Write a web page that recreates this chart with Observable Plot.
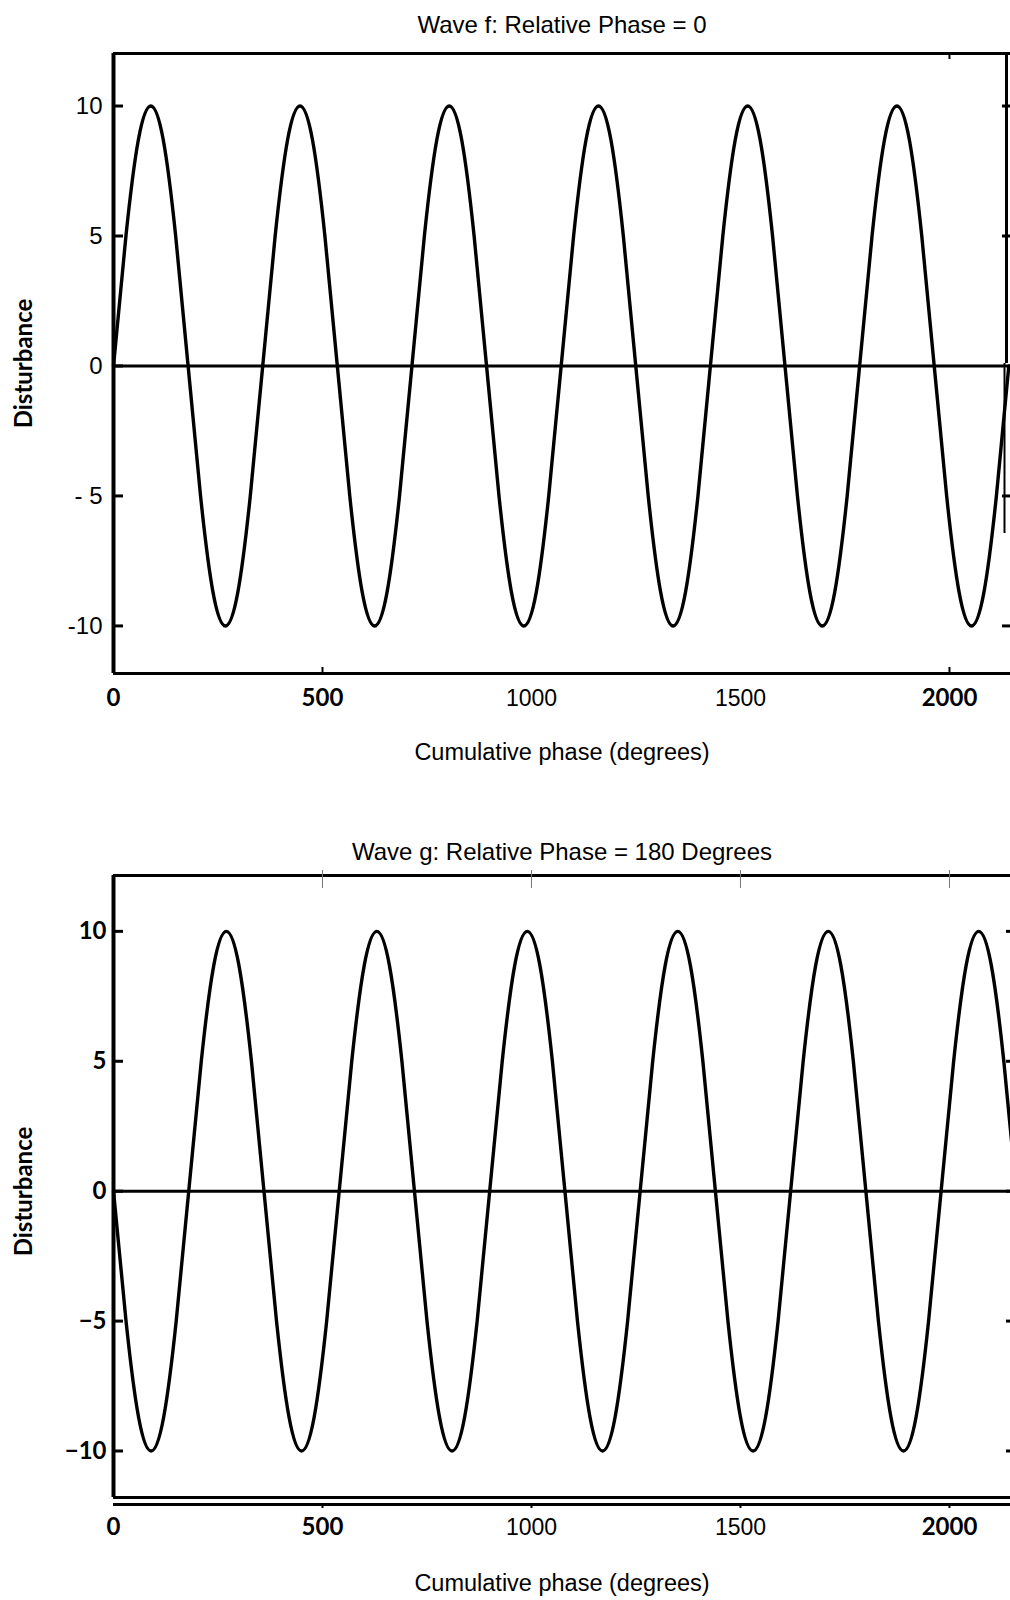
<!DOCTYPE html>
<html><head><meta charset="utf-8">
<script src="https://cdn.jsdelivr.net/npm/d3@7"></script>
<script src="https://cdn.jsdelivr.net/npm/@observablehq/plot@0.6"></script>
<style>
body{margin:0;background:#fff;}
#wrap{width:1010px;overflow:hidden;}
#wrap svg{display:block;overflow:hidden;}
</style></head><body><div id="wrap"></div>
<script>
// ---- data ----
const titleF = "Wave f: Relative Phase = 0";
const titleG = "Wave g: Relative Phase = 180 Degrees";
const xTitle = "Cumulative phase (degrees)";
const yTitle = "Disturbance";

// cumulative phase (deg) of sample points along wave f (as drawn)
const phaseF = [0,29.75,59.5,89.25,119,148.75,178.5,208.25,238,267.75,297.5,327.25,
  357,386.75,416.5,446.25,476,505.75,535.5,565.25,595,624.75,654.5,684.25,
  714,743.75,773.5,803.25,833,862.75,892.5,922.25,952,981.75,1011.5,1041.25,
  1071,1100.75,1130.5,1160.25,1190,1219.75,1249.5,1279.25,1309,1338.75,1368.5,1398.25,
  1428,1457.75,1487.5,1517.25,1547,1576.75,1606.5,1636.25,1666,1695.75,1725.5,1755.25,
  1785,1814.75,1844.5,1874.25,1904,1933.75,1963.5,1993.25,2023,2052.75,2082.5,2112.25,
  2142];
const waveF = [0,5,8.7,10,8.7,5,0,-5,-8.7,-10,-8.7,-5,
  0,5,8.7,10,8.7,5,0,-5,-8.7,-10,-8.7,-5,
  0,5,8.7,10,8.7,5,0,-5,-8.7,-10,-8.7,-5,
  0,5,8.7,10,8.7,5,0,-5,-8.7,-10,-8.7,-5,
  0,5,8.7,10,8.7,5,0,-5,-8.7,-10,-8.7,-5,
  0,5,8.7,10,8.7,5,0,-5,-8.7,-10,-8.7,-5,
  0];

// cumulative phase (deg) of sample points along wave g
const phaseG = [0,30,60,90,120,150,180,210,240,270,300,330,
  360,390,420,450,480,510,540,570,600,630,660,690,
  720,750,780,810,840,870,900,930,960,990,1020,1050,
  1080,1110,1140,1170,1200,1230,1260,1290,1320,1350,1380,1410,
  1440,1470,1500,1530,1560,1590,1620,1650,1680,1710,1740,1770,
  1800,1830,1860,1890,1920,1950,1980,2010,2040,2070,2100,2130,
  2160];
const waveG = [0,-5,-8.7,-10,-8.7,-5,0,5,8.7,10,8.7,5,
  0,-5,-8.7,-10,-8.7,-5,0,5,8.7,10,8.7,5,
  0,-5,-8.7,-10,-8.7,-5,0,5,8.7,10,8.7,5,
  0,-5,-8.7,-10,-8.7,-5,0,5,8.7,10,8.7,5,
  0,-5,-8.7,-10,-8.7,-5,0,5,8.7,10,8.7,5,
  0,-5,-8.7,-10,-8.7,-5,0,5,8.7,10,8.7,5,
  0];

const yTicks = [10, 5, 0, -5, -10];
const yLabelsF = ["10", "5", "0", "- 5", "-10"];
const yLabelsG = ["10", "5", "0", "\u22125", "\u221210"];
const xTicksBold = [0, 500, 2000];
const xTicksNarrow = [1000, 1500];
const xInnerTicksF = [500, 2000];
const xTopTicksF = [2000];
const xTicksAll = [500, 1000, 1500, 2000];

const xDomain = [0, 2146];
const yDomainF = [-11.83, 12.02];
const yDomainG = [-11.79, 12.15];

// ---- styles ----
const NARROW = "'Liberation Sans',Arial,sans-serif";
const BOLD = "Lato,'Open Sans',sans-serif";
const W = 1010, H = 800;

function chart(opts) {
  const {phase, wave, yDomain, title, yLabels, marginTop, marginBottom,
         titleDy, tickDy, xTitleDy, yLabelFont, yLabelSize, yLabelDx, bottom} = opts;
  const plotW = W - 113;
  const plotH = H - marginTop - marginBottom;
  const marks = [
    // frame
    Plot.ruleX([xDomain[0]], {stroke: "black", strokeWidth: 4}),
    Plot.ruleY([yDomain[1]], {stroke: "black", strokeWidth: 3}),
    Plot.ruleY([yDomain[0]], {stroke: "black", strokeWidth: 3}),
    // zero line
    Plot.ruleY([0], {stroke: "black", strokeWidth: 3}),
    // inward y ticks (left)
    Plot.ruleY(yTicks, {y: d => d, stroke: "black", strokeWidth: 3, insetRight: plotW - 10}),
    // wave
    Plot.line(wave, {x: phase, y: d => d, curve: "natural", stroke: "black", strokeWidth: 3.4}),
    // y tick labels
    Plot.text(yTicks, {y: d => d, text: (d, i) => yLabels[i], frameAnchor: "left",
      textAnchor: "end", lineAnchor: "middle", dx: yLabelDx, fontSize: yLabelSize, fontFamily: yLabelFont,
      fontWeight: yLabelFont === BOLD ? "bold" : "normal", fill: "black"}),
    // x tick labels
    Plot.text(xTicksBold, {x: d => d, text: d => String(d), frameAnchor: "bottom", lineAnchor: "middle",
      dy: tickDy, fontSize: 24, fontFamily: BOLD, fontWeight: "bold", fill: "black"}),
    Plot.text(xTicksNarrow, {x: d => d, text: d => String(d), frameAnchor: "bottom", lineAnchor: "middle",
      dy: tickDy, fontSize: 23, fontFamily: NARROW, fill: "black"}),
    // titles
    Plot.text([title], {frameAnchor: "top", lineAnchor: "middle", textAnchor: "middle", dy: titleDy,
      fontSize: 24, fontFamily: NARROW, fill: "black"}),
    Plot.text([xTitle], {frameAnchor: "bottom", lineAnchor: "middle", textAnchor: "middle", dy: xTitleDy,
      fontSize: 23.5, fontFamily: NARROW, fill: "black"}),
    Plot.text([yTitle], {frameAnchor: "left", rotate: -90, textAnchor: "middle", lineAnchor: "middle",
      dx: -89, dy: opts.yTitleDy, fontSize: 24, fontFamily: BOLD, fontWeight: "bold", fill: "black"})
  ];
  if (!bottom) {
    marks.push(
      Plot.ruleX(xInnerTicksF, {x: d => d, stroke: "black", strokeWidth: 2, insetTop: plotH - 6}),
      Plot.ruleX(xTopTicksF, {x: d => d, stroke: "black", strokeWidth: 2, insetBottom: plotH - 6}),
      Plot.ruleX([xDomain[1]], {dx: -4, stroke: "black", strokeWidth: 3, insetBottom: plotH / 2}),
      Plot.ruleX([xDomain[1]], {dx: -6, stroke: "black", strokeWidth: 2, insetTop: plotH / 2, insetBottom: 140}),
      Plot.ruleY([10, 5, -5, -10], {y: d => d, stroke: "black", strokeWidth: 3, insetLeft: plotW - 8})
    );
  } else {
    marks.push(
      Plot.ruleY([yDomain[0]], {dy: 7, stroke: "black", strokeWidth: 3}),
      Plot.ruleX(xTicksAll, {x: d => d, stroke: "#777", strokeWidth: 1, insetBottom: plotH - 18, dy: -5}),
      Plot.ruleX(xTicksAll, {x: d => d, stroke: "black", strokeWidth: 2, insetTop: plotH - 4, dy: 11}),
      Plot.ruleY(yTicks, {y: d => d, stroke: "black", strokeWidth: 3, insetLeft: plotW - 4})
    );
  }
  return Plot.plot({
    width: W, height: H,
    marginTop, marginBottom, marginLeft: 113, marginRight: 0,
    x: {domain: xDomain, axis: null},
    y: {domain: yDomain, axis: null},
    style: {background: "white", color: "black", overflow: "hidden"},
    marks
  });
}

const wrap = document.getElementById("wrap");
wrap.appendChild(chart({
  phase: phaseF, wave: waveF, yDomain: yDomainF, title: titleF, yLabels: yLabelsF,
  marginTop: 53, marginBottom: 127, titleDy: -28, tickDy: 25, xTitleDy: 79,
  yLabelFont: NARROW, yLabelSize: 24, yLabelDx: -11, yTitleDy: 0, bottom: false
}));
wrap.appendChild(chart({
  phase: phaseG, wave: waveG, yDomain: yDomainG, title: titleG, yLabels: yLabelsG,
  marginTop: 75, marginBottom: 103, titleDy: -23, tickDy: 30, xTitleDy: 86,
  yLabelFont: BOLD, yLabelSize: 24, yLabelDx: -7, yTitleDy: 5, bottom: true
}));
</script></body></html>
